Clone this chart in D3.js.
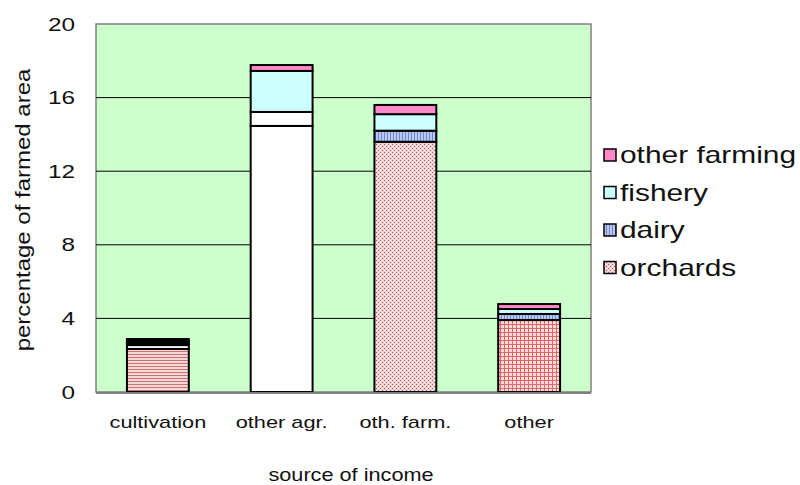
<!DOCTYPE html>
<html><head><meta charset="utf-8">
<script src="https://cdn.jsdelivr.net/npm/d3@7"></script>
<style>body{margin:0;background:#fff;}text{font-family:"Liberation Sans",Arial,sans-serif;}</style>
</head><body>
<svg id="c" width="800" height="485"></svg>
<script>
const categories = ["cultivation","other agr.","oth. farm.","other"];
const seriesNames = ["field crops","other agr.","vegetables","orchards","other","dairy","fishery","other farming"];
const fieldCrops   = [2.34, 0, 0, 0];
const otherAgr     = [0, 14.46, 0, 0];
const vegetables   = [0.21, 0.76, 0, 0];
const orchards     = [0, 0, 13.6, 0];
const otherSrc     = [0, 0, 0, 3.91];
const dairy        = [0.11, 0, 0.6, 0.33];
const fishery      = [0.11, 2.23, 0.9, 0.27];
const otherFarming = [0.11, 0.32, 0.5, 0.27];
const legendNames  = ["other farming","fishery","dairy","orchards"];
const yTicks = [0,4,8,12,16,20];
const xTitle = "source of income";
const yTitle = "percentage of farmed area";

const seriesVals = [fieldCrops, otherAgr, vegetables, orchards, otherSrc, dairy, fishery, otherFarming];
const rows = categories.map((c,i)=>{const r={cat:c}; seriesNames.forEach((s,j)=>r[s]=seriesVals[j][i]); return r;});

const svg = d3.select("#c");
const defs = svg.append("defs");
function pat(id,w,h,bg,draw){const p=defs.append("pattern").attr("id",id).attr("width",w).attr("height",h).attr("patternUnits","userSpaceOnUse");p.append("rect").attr("width",w).attr("height",h).attr("fill",bg);draw(p);}
pat("hs",4,3,"#f6d8d8",p=>p.append("rect").attr("y",0).attr("width",4).attr("height",1).attr("fill","#cc7070"));
pat("ck",4,4,"#f2d0d0",p=>{p.append("rect").attr("x",0).attr("y",0).attr("width",1).attr("height",1).attr("fill","#b85a5a");p.append("rect").attr("x",2).attr("y",2).attr("width",1).attr("height",1).attr("fill","#b85a5a");p.append("rect").attr("x",2).attr("y",0).attr("width",1).attr("height",1).attr("fill","#ffffff");p.append("rect").attr("x",0).attr("y",2).attr("width",1).attr("height",1).attr("fill","#ffffff");});
pat("gr",4,4,"#fbdada",p=>{p.append("rect").attr("width",4).attr("height",1).attr("fill","#e06868");p.append("rect").attr("width",1).attr("height",4).attr("fill","#e06868");});
pat("vs",3,4,"#b8c8f0",p=>p.append("rect").attr("width",1).attr("height",4).attr("fill","#6f88cc"));
const fills = {"field crops":"url(#hs)","other agr.":"#ffffff","vegetables":"#ffffff","orchards":"url(#ck)","other":"url(#gr)","dairy":"url(#vs)","fishery":"#ccffff","other farming":"#ff88c8"};

const L=96,T=24,R=591,B=392;
const SX = 1.28;
const x = d3.scaleBand().domain(categories).range([L,R]).paddingInner(0.5).paddingOuter(0.25);
const y = d3.scaleLinear().domain([0,20]).range([B,T]);

svg.append("rect").attr("x",L).attr("y",T).attr("width",R-L).attr("height",B-T).attr("fill","#ccffcc").attr("stroke","#808080").attr("stroke-width",1.5);
svg.append("g").selectAll("line").data(yTicks.filter(t=>t>0&&t<20)).join("line")
  .attr("x1",L).attr("x2",R).attr("y1",d=>y(d)).attr("y2",d=>y(d)).attr("stroke","#000").attr("stroke-width",1);

const stack = d3.stack().keys(seriesNames)(rows);
const g = svg.append("g");
stack.forEach(layer=>{
  g.selectAll(null).data(layer.filter(d=>d[1]-d[0]>0)).join("rect")
   .attr("x",d=>x(d.data.cat)).attr("width",x.bandwidth())
   .attr("y",d=>y(d[1])).attr("height",d=>y(d[0])-y(d[1]))
   .attr("fill",fills[layer.key]).attr("stroke","#000").attr("stroke-width",2);
});
svg.append("line").attr("x1",L).attr("x2",R).attr("y1",B+1).attr("y2",B+1).attr("stroke","#808080").attr("stroke-width",2);

const ya = d3.axisLeft(y).tickValues(yTicks).tickSize(0).tickPadding(21);
const yg = svg.append("g").attr("transform",`translate(${L},0)`).call(ya);
yg.select(".domain").remove();
yg.selectAll("text").attr("font-size",19).attr("fill","#111").style("font-family","Liberation Sans, Arial, sans-serif")
  .attr("x",0).attr("transform",`translate(-21,0) scale(${SX},1)`);

const xa = d3.axisBottom(x).tickSize(0).tickPadding(24);
const xg = svg.append("g").attr("transform",`translate(0,${B})`).call(xa);
xg.select(".domain").remove();
xg.selectAll("text").attr("font-size",17).attr("fill","#111").style("font-family","Liberation Sans, Arial, sans-serif")
  .attr("y",0).attr("transform",`translate(0,24) scale(${SX},1)`);

svg.append("text").attr("transform",`translate(351,481) scale(1.24,1)`).attr("text-anchor","middle").attr("font-size",17.5).attr("fill","#111").text(xTitle);
svg.append("text").attr("transform",`translate(30,${(T+B)/2+2}) rotate(-90) scale(1.2,1)`).attr("text-anchor","middle").attr("font-size",20).attr("fill","#111").text(yTitle);

const lg = svg.append("g");
legendNames.forEach((n,i)=>{
  const cy = 155 + i*37.5;
  lg.append("rect").attr("x",604).attr("y",cy-6).attr("width",12).attr("height",12).attr("fill",fills[n]).attr("stroke","#000").attr("stroke-width",1.5);
  lg.append("text").attr("transform",`translate(620,${cy+8}) scale(1.3,1)`).attr("font-size",23).attr("fill","#111").text(n);
});
</script>
</body></html>
